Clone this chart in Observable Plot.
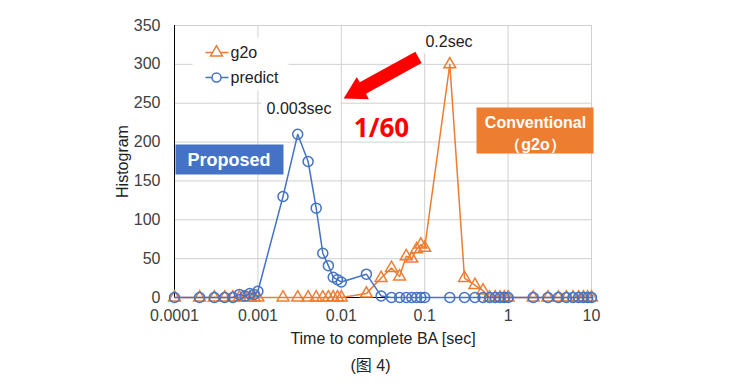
<!DOCTYPE html>
<html><head><meta charset="utf-8">
<script src="https://cdn.jsdelivr.net/npm/d3@7"></script>
<script src="https://cdn.jsdelivr.net/npm/@observablehq/plot@0.6"></script>
<style>body{margin:0;background:#fff}svg{display:block}</style>
</head><body><div id="chart"></div>
<script>
// Time to complete BA [sec] (x categories)
const times = [
  0.0001,0.0002,0.0003,0.0004,0.0005,0.0006,0.0007,0.0008,0.0009,
  0.001,0.002,0.003,0.004,0.005,0.006,0.007,0.008,0.009,
  0.01,0.02,0.03,0.04,0.05,0.06,0.07,0.08,0.09,
  0.1,0.2,0.3,0.4,0.5,0.6,0.7,0.8,0.9,
  1,2,3,4,5,6,7,8,9,
  10
];
// Histogram counts
const g2o = [
  0,0,0,0,0,0,0,0,0,
  0,0,0,0,0,0,0,0,0,
  0,5,25,38,27,53,50,62,68,
  64,300,25,16,9,0,0,0,0,
  0,0,0,0,0,0,0,0,0,
  0
];
const predict = [
  0,0,0,0,0,4,2,5,4,
  8,130,210,175,115,57,41,26,23,
  20,30,2,0,0,0,0,0,0,
  0,0,0,0,0,0,0,0,0,
  0,0,0,0,0,0,0,0,0,
  0
];
const seriesNames = ["g2o", "predict"];
const seriesColors = ["#ED7D31", "#4472C4"];
const xTicks = [0.0001, 0.001, 0.01, 0.1, 1, 10];
const xTickLabels = ["0.0001", "0.001", "0.01", "0.1", "1", "10"];
const yTicks = [0, 50, 100, 150, 200, 250, 300, 350];
const xLabel = "Time to complete BA [sec]";
const yLabel = "Histogram";
const caption = "(图 4)";
// annotation arrow (data coordinates): tail -> head
const arrow = [{x1: 0.0843, y1: 309, x2: 0.0152, y2: 265}];

const rowsG = times.map((t, i) => ({t, v: g2o[i]}));
const rowsP = times.map((t, i) => ({t, v: predict[i]}));

const font = "'Liberation Sans', Arial, sans-serif";

const chart = Plot.plot({
  width: 745,
  height: 390,
  marginLeft: 174,
  marginRight: 154,
  marginTop: 25,
  marginBottom: 93,
  style: {fontFamily: font, fontSize: "16px", color: "#404040", background: "#fff"},
  x: {type: "log", domain: [0.0001, 10]},
  y: {domain: [0, 350]},
  marks: [
    Plot.gridX(xTicks, {stroke: "#d0d0d0", strokeOpacity: 1}),
    Plot.gridY(yTicks, {stroke: "#d0d0d0", strokeOpacity: 1}),
    // white backgrounds (legend, labels)
    Plot.frame({fill: "white", stroke: null, insetLeft: 18, insetRight: 303, insetTop: 12, insetBottom: 207}),
    Plot.frame({fill: "white", stroke: null, insetLeft: 87, insetRight: 251, insetTop: 72, insetBottom: 177}),
    Plot.frame({fill: "white", stroke: null, insetLeft: 247, insetRight: 116, insetTop: 1, insetBottom: 244}),
    Plot.axisY({ticks: yTicks, tickSize: 0, tickPadding: 14, fontSize: 16, label: null}),
    Plot.axisX({ticks: xTicks, tickFormat: d => xTickLabels[xTicks.indexOf(d)], tickSize: 0, tickPadding: 12, fontSize: 16, label: null}),
    Plot.ruleX([0.0001], {stroke: "#000"}),
    Plot.ruleY([0], {stroke: "#000"}),
    // series
    Plot.line(rowsG, {x: "t", y: "v", stroke: seriesColors[0], strokeWidth: 1.5}),
    Plot.dot(rowsG, {x: "t", y: "v", symbol: "triangle", r: 4.4, stroke: seriesColors[0], fill: "none", strokeWidth: 1.5}),
    Plot.line(rowsP, {x: "t", y: "v", stroke: seriesColors[1], strokeWidth: 1.5}),
    Plot.dot(rowsP, {x: "t", y: "v", symbol: "circle", r: 5, stroke: seriesColors[1], fill: "none", strokeWidth: 1.5}),
    // legend
    Plot.frame({fill: seriesColors[0], stroke: null, insetLeft: 31, insetRight: 363, insetTop: 26.25, insetBottom: 244.25}),
    Plot.dot([seriesNames[0]], {frameAnchor: "top-left", dx: 42, dy: 27, symbol: "triangle", r: 4.4, stroke: seriesColors[0], fill: "white", strokeWidth: 1.5}),
    Plot.text([seriesNames[0]], {frameAnchor: "top-left", dx: 56, dy: 27, textAnchor: "start", lineAnchor: "middle", fontSize: 16, fill: "#222"}),
    Plot.frame({fill: seriesColors[1], stroke: null, insetLeft: 31, insetRight: 363, insetTop: 51.25, insetBottom: 219.25}),
    Plot.dot([seriesNames[1]], {frameAnchor: "top-left", dx: 42, dy: 52, symbol: "circle", r: 4.5, stroke: seriesColors[1], fill: "white", strokeWidth: 1.5}),
    Plot.text([seriesNames[1]], {frameAnchor: "top-left", dx: 56, dy: 52, textAnchor: "start", lineAnchor: "middle", fontSize: 16, fill: "#222"}),
    // annotations
    Plot.text(["0.2sec"], {frameAnchor: "top-left", dx: 274.5, dy: 16, textAnchor: "middle", lineAnchor: "middle", fontSize: 16, fill: "#222"}),
    Plot.text(["0.003sec"], {frameAnchor: "top-left", dx: 124.5, dy: 83, textAnchor: "middle", lineAnchor: "middle", fontSize: 16, fill: "#222"}),
    Plot.text(["1/60"], {frameAnchor: "top-left", dx: 207, dy: 103, textAnchor: "middle", lineAnchor: "middle", fontSize: 26, fontWeight: "bold", fill: "#FF0000", fontFamily: "'Noto Sans', sans-serif"}),
    Plot.frame({fill: seriesColors[1], stroke: null, insetLeft: 1, insetRight: 308, insetTop: 119, insetBottom: 123}),
    Plot.text(["Proposed"], {frameAnchor: "top-left", dx: 54.5, dy: 135, textAnchor: "middle", lineAnchor: "middle", fontSize: 18, fontWeight: "bold", fill: "white"}),
    Plot.frame({fill: seriesColors[0], stroke: null, insetLeft: 302, insetRight: -2, insetTop: 82, insetBottom: 144}),
    Plot.text(["Conventional\n（g2o）"], {frameAnchor: "top-left", dx: 361, dy: 106.7, textAnchor: "middle", lineAnchor: "middle", lineHeight: 1.375, fontSize: 16, fontWeight: "bold", fill: "white"}),
    Plot.link(arrow, {x1: "x1", y1: "y1", x2: "x2", y2: "y2", stroke: "#FF0000", strokeWidth: 13, strokeLinecap: "butt"}),
    Plot.dot(arrow, {x: "x2", y: "y2", symbol: "triangle", r: 9.4, rotate: 241.3, fill: "#FF0000", stroke: null}),
    // axis titles and caption
    Plot.text([yLabel], {frameAnchor: "left", dx: -52, rotate: -90, textAnchor: "middle", lineAnchor: "middle", fontSize: 16, fill: "#222"}),
    Plot.text([xLabel], {frameAnchor: "bottom", dy: 41.5, textAnchor: "middle", lineAnchor: "middle", fontSize: 16, fill: "#222"}),
    Plot.text([caption], {frameAnchor: "bottom", dx: -12.5, dy: 68, textAnchor: "middle", lineAnchor: "middle", fontSize: 16, fill: "#222", fontFamily: "'Liberation Sans', 'Noto Sans CJK SC', sans-serif"})
  ]
});
document.getElementById("chart").append(chart);
</script>
</body></html>
